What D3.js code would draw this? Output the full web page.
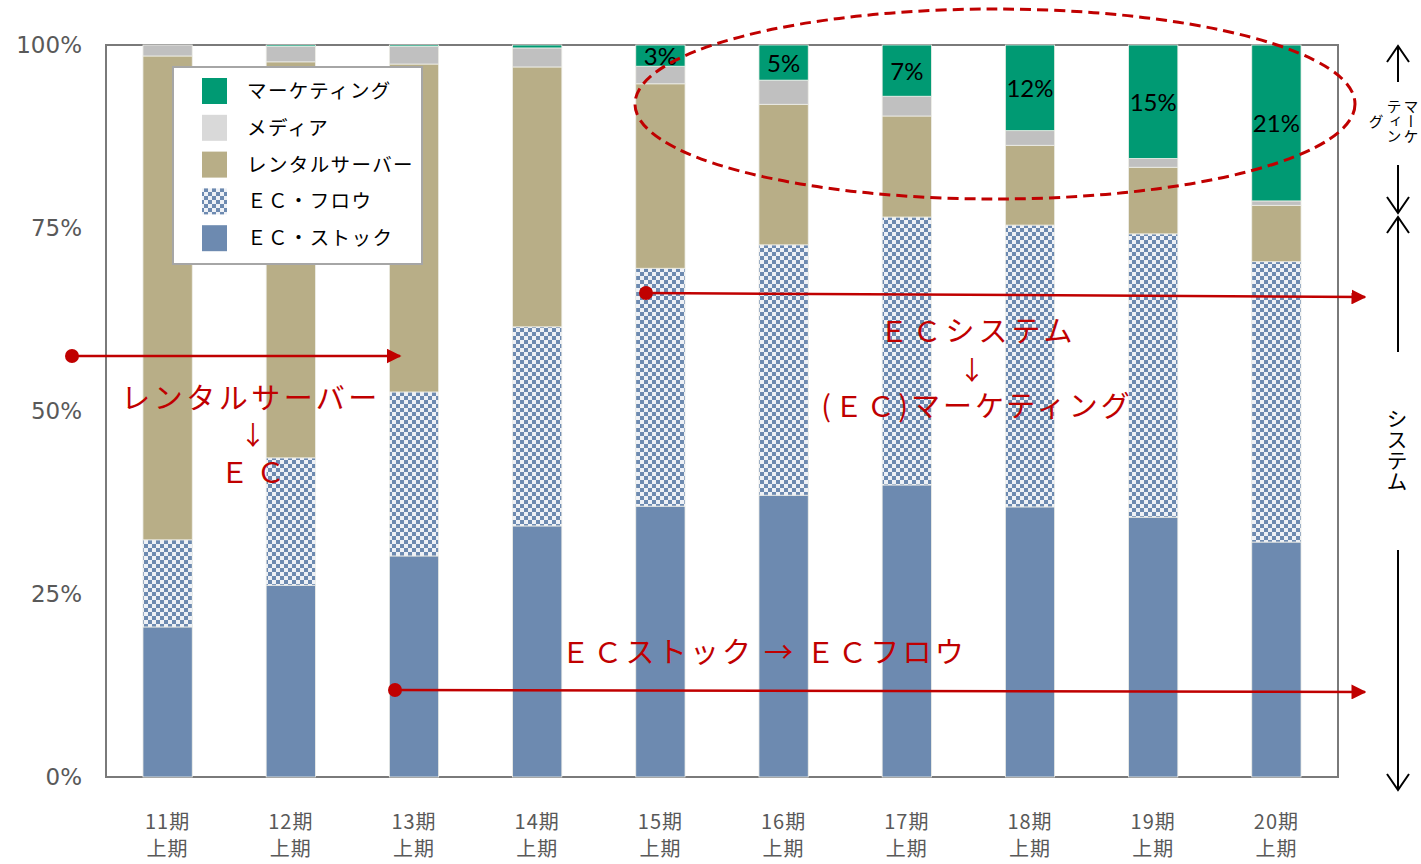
<!DOCTYPE html>
<html><head><meta charset="utf-8">
<script src="https://cdn.jsdelivr.net/npm/d3@7"></script>
<style>html,body{margin:0;padding:0;background:#fff;}</style>
</head><body>
<svg id="c" width="1421" height="864"></svg>
<script>
const periods = ["11期","12期","13期","14期","15期","16期","17期","18期","19期","20期"];
const periodSub = "上期";
const seriesNames = ["ＥＣ・ストック","ＥＣ・フロウ","レンタルサーバー","メディア","マーケティング"];
const ecStock   = [20.5, 26.2, 30.2, 34.3, 37.0, 38.5, 39.9, 36.9, 35.5, 32.1];
const ecFlow    = [11.9, 17.4, 22.4, 27.2, 32.5, 34.2, 36.6, 38.5, 38.7, 38.3];
const rental    = [66.1, 54.1, 44.8, 35.5, 25.2, 19.2, 13.8, 10.9,  9.1,  7.7];
const media     = [ 1.5,  2.1,  2.4,  2.6,  2.4,  3.3,  2.7,  2.0,  1.2,  0.6];
const marketing = [ 0.0,  0.2,  0.2,  0.4,  2.9,  4.8,  7.0, 11.7, 15.5, 21.3];
const mktLabels = ["","","","","3%","5%","7%","12%","15%","21%"];
const yTicks = [0, 25, 50, 75, 100];

const svg = d3.select("#c");
const m = {l:106, t:45, r:1338, b:777};
const x = d3.scaleBand().domain(periods).range([m.l, m.r]).paddingInner(0.6).paddingOuter(0.3);
const y = d3.scaleLinear().domain([0,100]).range([m.b, m.t]);

const defs = svg.append("defs");
const pat = defs.append("pattern").attr("id","chk").attr("patternUnits","userSpaceOnUse")
  .attr("width",8).attr("height",8);
pat.append("rect").attr("width",8).attr("height",8).attr("fill","#eef1f6");
pat.append("rect").attr("width",4).attr("height",4).attr("fill","#6d8ab0");
pat.append("rect").attr("x",4).attr("y",4).attr("width",4).attr("height",4).attr("fill","#6d8ab0");

const colors = ["#6d8ab0","url(#chk)","#b8ae87","#c0c0c0","#009a73"];
const legendColors = ["#6d8ab0","url(#chk)","#b8ae87","#d9d9d9","#009a73"];

const rows = periods.map((p,i)=>({p, v:[ecStock[i],ecFlow[i],rental[i],media[i],marketing[i]]}));
const stack = d3.stack().keys([0,1,2,3,4]).value((d,k)=>d.v[k]);
const layers = stack(rows);

// plot frame
svg.append("rect").attr("x",m.l).attr("y",m.t).attr("width",m.r-m.l).attr("height",m.b-m.t)
  .attr("fill","none").attr("stroke","#7a7a7a").attr("stroke-width",2);

const g = svg.append("g");
layers.forEach((layer,k)=>{
  g.selectAll(null).data(layer).join("rect")
    .attr("x",d=>x(d.data.p)).attr("width",x.bandwidth())
    .attr("y",d=>y(d[1])).attr("height",d=>Math.max(0,y(d[0])-y(d[1])))
    .attr("fill",colors[k]).attr("stroke","#eeeee8").attr("stroke-width",0.8);
});

// marketing labels
g.selectAll(null).data(layers[4]).join("text")
  .attr("x",d=>x(d.data.p)+x.bandwidth()/2)
  .attr("y",d=>(y(d[0])+y(d[1]))/2 + 9)
  .attr("text-anchor","middle").attr("font-family","Lato, 'Liberation Sans', sans-serif")
  .attr("font-size",24).attr("fill","#000")
  .text((d,i)=>mktLabels[i]);

// y axis
const ya = svg.append("g").attr("transform",`translate(${m.l},0)`)
  .call(d3.axisLeft(y).tickValues(yTicks).tickFormat(d=>d+"%").tickSize(0).tickPadding(24));
ya.select(".domain").remove();
ya.selectAll("text").attr("font-family","'DejaVu Sans', sans-serif").attr("font-size",23).attr("fill","#595959");

// x axis
const xa = svg.append("g").attr("transform",`translate(0,${m.b})`)
  .call(d3.axisBottom(x).tickSize(0).tickFormat(()=>""));
xa.select(".domain").remove();
xa.selectAll(".tick text").remove();
xa.selectAll(".tick").each(function(d){
  const t = d3.select(this).append("text").attr("fill","#595959")
    .attr("font-family","'Noto Sans CJK JP', sans-serif").attr("font-size",20)
    .attr("letter-spacing",1).attr("text-anchor","middle");
  t.append("tspan").attr("x",0).attr("y",52).text(d);
  t.append("tspan").attr("x",0).attr("y",79).text(periodSub);
});

// legend
const lg = svg.append("g");
lg.append("rect").attr("x",173).attr("y",67).attr("width",249).attr("height",197)
  .attr("fill","#fff").attr("stroke","#a6a6a6").attr("stroke-width",2);
const legOrder = [4,3,2,1,0];
legOrder.forEach((k,i)=>{
  const cy = 91 + i*36.8;
  lg.append("rect").attr("x",202).attr("y",cy-13).attr("width",25).attr("height",26).attr("fill",legendColors[k]);
  lg.append("text").attr("x",247).attr("y",cy+7).attr("font-family","'Noto Sans CJK JP', sans-serif")
    .attr("font-size",19.5).attr("fill","#000").attr("letter-spacing",1.4).text(seriesNames[k]);
});

// red annotations
const red = "#c00000";
defs.append("marker").attr("id","rarr").attr("viewBox","0 0 10 10").attr("refX",9).attr("refY",5)
  .attr("markerWidth",6).attr("markerHeight",6).attr("orient","auto")
  .append("path").attr("d","M0,0 L10,5 L0,10 z").attr("fill",red);
function redArrow(x1,y1,x2,y2){
  svg.append("line").attr("x1",x1).attr("y1",y1).attr("x2",x2).attr("y2",y2)
    .attr("stroke",red).attr("stroke-width",2.5).attr("marker-end","url(#rarr)");
  svg.append("circle").attr("cx",x1).attr("cy",y1).attr("r",7).attr("fill",red);
}
redArrow(72,356,400,356);
redArrow(646,293,1365,297);
redArrow(395,690,1365,692);

function redText(t,cx,cy,fs,ls){
  svg.append("text").attr("x",cx).attr("y",cy).attr("text-anchor","middle").attr("dominant-baseline","central")
    .attr("font-family","'Noto Sans CJK JP', sans-serif").attr("font-size",fs).attr("fill",red)
    .attr("letter-spacing",ls||0).text(t);
}
redText("レンタルサーバー",251,396,29,3.5);
redText("↓",253,433,26);
redText("ＥＣ",256,470,29,7);
redText("ＥＣシステム",978,329,29,4);
redText("↓",972,368,26);
redText("(ＥＣ)マーケティング",977,404,29,3);
redText("ＥＣストック → ＥＣフロウ",764,650,29,3.2);

svg.append("ellipse").attr("cx",995).attr("cy",104).attr("rx",360).attr("ry",95)
  .attr("fill","none").attr("stroke",red).attr("stroke-width",3).attr("stroke-dasharray","11,6");

// right black arrows
function blackArrow(xx,y1,y2){
  svg.append("line").attr("x1",xx).attr("y1",y1).attr("x2",xx).attr("y2",y2).attr("stroke","#000").attr("stroke-width",2);
  const dir = y2>y1?-1:1;
  svg.append("path").attr("d",`M${xx-11},${y2+dir*16} L${xx},${y2} L${xx+11},${y2+dir*16}`)
    .attr("fill","none").attr("stroke","#000").attr("stroke-width",2);
}
blackArrow(1398,82,46);
blackArrow(1398,165,213);
blackArrow(1398,352,217);
blackArrow(1398,550,790);

function vText(t,cx,top,fs){
  svg.append("text").attr("x",cx).attr("y",top).attr("writing-mode","vertical-rl")
    .attr("style","writing-mode:vertical-rl;text-orientation:mixed")
    .attr("font-family","'Noto Sans CJK JP', sans-serif").attr("font-size",fs).attr("fill","#000").text(t);
}
vText("マーケ",1411,99,15);
vText("ティン",1394,99,15);
vText("グ",1376,114,15);
vText("システム",1397,408,21);
</script>
</body></html>
